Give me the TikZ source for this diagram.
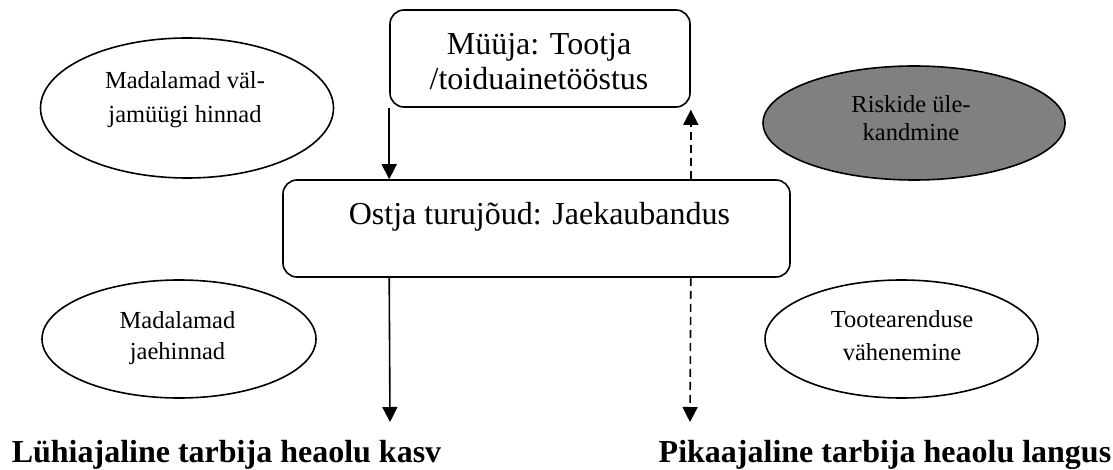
\documentclass[tikz,border=0pt]{standalone}
\usepackage{fontspec}
\setmainfont{Liberation Serif}
\usetikzlibrary{arrows.meta,shapes.geometric,calc}
\begin{document}
\begin{tikzpicture}[x=1pt,y=-1pt,
  line width=1.6pt,
  oval/.style={draw=black,ellipse,inner sep=0pt,line width=1.6pt},
  box/.style={draw=black,rectangle,rounded corners=14pt,inner sep=0pt,line width=1.6pt},
  otext/.style={align=center,inner sep=0pt},
  btext/.style={font=\fontsize{32}{35}\selectfont,align=center,inner sep=0pt},
  endtext/.style={font=\bfseries\fontsize{32}{36}\selectfont,inner sep=0pt},
  solidarrow/.style={-{Triangle[length=15pt,width=15pt]},line width=1.6pt},
  dasharrow/.style={-{Triangle[length=15pt,width=15pt]},line width=1.6pt,dash pattern=on 8pt off 5pt}
]
\useasboundingbox (0,0) rectangle (1113,470);

% boxes
\node[box,minimum width=300pt,minimum height=97pt] (top) at (540,58.5) {};
\node[btext,anchor=center] (toptext) at (539,61.5) {Müüja: Tootja\\/toiduainetööstus};
\node[box,minimum width=507pt,minimum height=97pt] (mid) at (536.5,228.5) {};
\node[btext,anchor=base] (midtext) at (539.5,225) {Ostja turujõud: Jaekaubandus};

% ellipses
\node[oval,minimum width=293pt,minimum height=140pt] (e1) at (187,108) {};
\node[otext,font=\fontsize{24.5}{34}\selectfont] (t1) at (185,99.4) {Madalamad väl-\\jamüügi hinnad};
\node[oval,fill={rgb,255:red,128;green,128;blue,128},minimum width=302pt,minimum height=114pt] (e2) at (914,123) {};
\node[otext,font=\fontsize{24.5}{28}\selectfont] (t2) at (911,117.8) {Riskide üle-\\kandmine};
\node[oval,minimum width=274pt,minimum height=118pt] (e3) at (179,339) {};
\node[otext,font=\fontsize{24.5}{31}\selectfont] (t3) at (177.5,337.9) {Madalamad\\jaehinnad};
\node[oval,minimum width=273pt,minimum height=118pt] (e4) at (901.5,339) {};
\node[otext,font=\fontsize{24.5}{33}\selectfont] (t4) at (902,335.3) {Tootearenduse\\vähenemine};

% bottom texts
\node[endtext,anchor=base west] (lt) at (11,462) {Lühiajaline tarbija heaolu kasv};
\node[endtext,anchor=base east] (rt) at (1112,462) {Pikaajaline tarbija heaolu langus};

% connectors
\coordinate (endL) at (390,422);
\coordinate (endR) at (690,422);
\draw[solidarrow] (top.south west) -- (mid.north -| top.south west);
\draw[dasharrow,shorten >=2pt] (mid.north -| top.south east) -- (top.south east);
\draw[solidarrow] (mid.south -| top.south west) -- (endL);
\draw[dasharrow] (mid.south -| top.south east) -- (endR);
\end{tikzpicture}
\end{document}
